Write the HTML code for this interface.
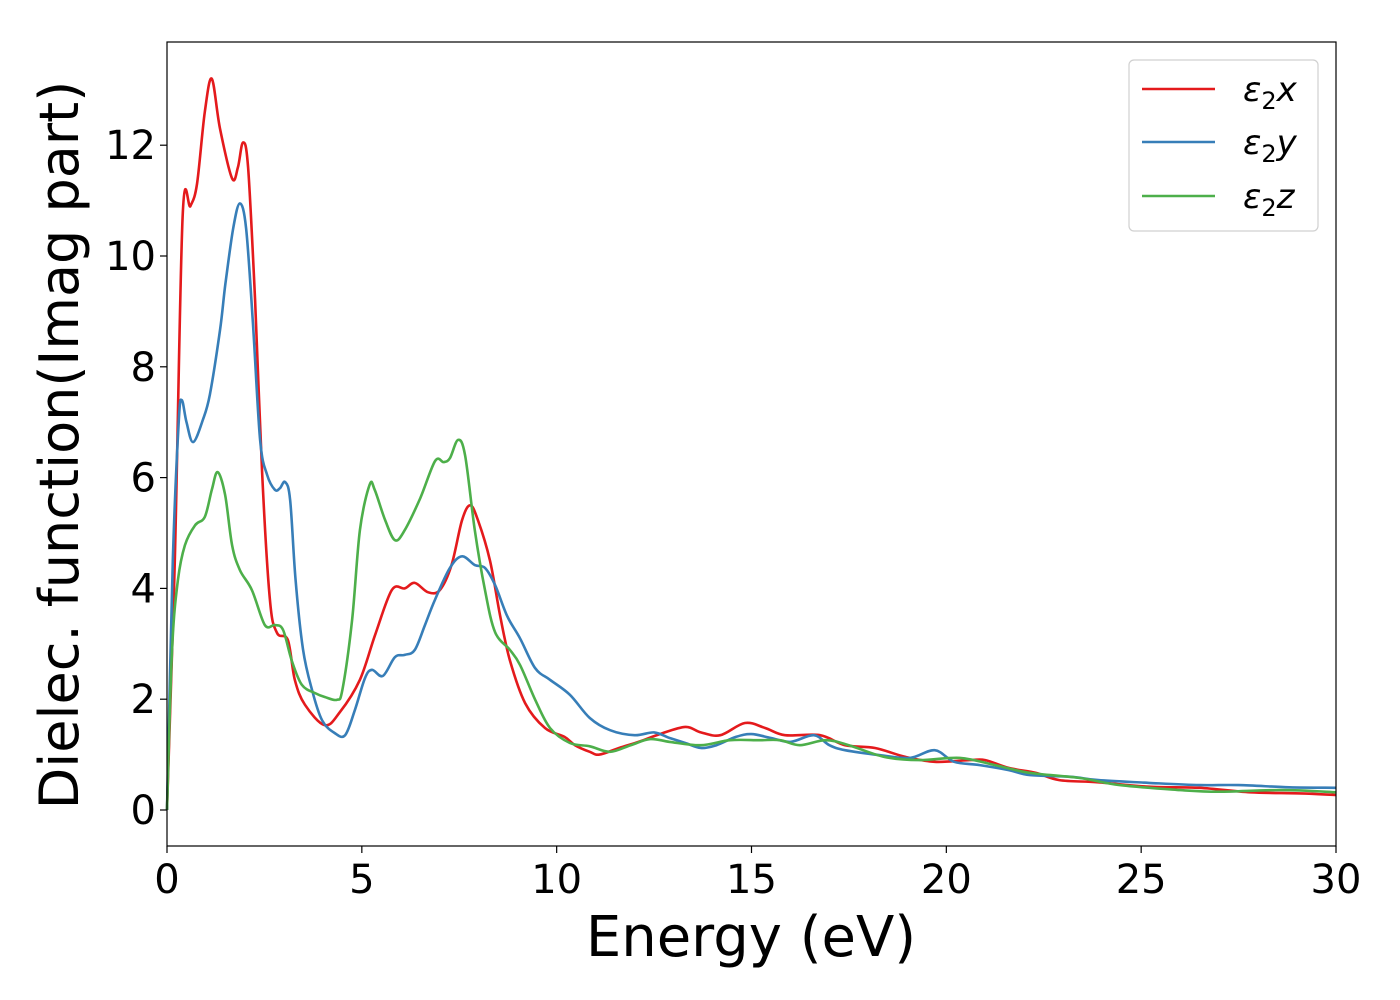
<!DOCTYPE html>
<html><head><meta charset="utf-8"><style>
html,body{margin:0;padding:0;background:#fff;}
svg{display:block;font-family:"DejaVu Sans","Liberation Sans",sans-serif;}
</style></head><body>
<svg id="chart" width="1400" height="1000" viewBox="0 0 1400 1000" xmlns="http://www.w3.org/2000/svg">
<rect x="0" y="0" width="1400" height="1000" fill="#fff"/>
<g id="series"></g>
<rect x="167" y="42" width="1169" height="804" fill="none" stroke="#000" stroke-width="1.2"/>
<g id="xticks"></g><g id="yticks"></g>
<text x="751" y="956" font-size="56" text-anchor="middle">Energy (eV)</text>
<text transform="translate(78,445) rotate(-90)" font-size="54" text-anchor="middle">Dielec. function(Imag part)</text>
<g>
<rect x="1129" y="60" width="189" height="171" rx="5" fill="#fff" stroke="#d0d0d0" stroke-width="1.2"/>
<line x1="1142" y1="89" x2="1215" y2="89" stroke="#e41a1c" stroke-width="2.5"/>
<line x1="1142" y1="142" x2="1215" y2="142" stroke="#377eb8" stroke-width="2.5"/>
<line x1="1142" y1="196" x2="1215" y2="196" stroke="#4daf4a" stroke-width="2.5"/>
<text x="1243" y="101" font-size="34"><tspan font-style="italic">ε</tspan><tspan font-size="24" dy="8">2</tspan><tspan font-style="italic" dy="-8">x</tspan></text>
<text x="1243" y="154" font-size="34"><tspan font-style="italic">ε</tspan><tspan font-size="24" dy="8">2</tspan><tspan font-style="italic" dy="-8">y</tspan></text>
<text x="1243" y="208" font-size="34"><tspan font-style="italic">ε</tspan><tspan font-size="24" dy="8">2</tspan><tspan font-style="italic" dy="-8">z</tspan></text>
</g>
</svg>
<script>
const xTicks=[0,5,10,15,20,25,30];
const yTicks=[0,2,4,6,8,10,12];
const redX=[0,0.2,0.4,0.6,0.77,0.97,1.15,1.36,1.67,1.82,1.95,2.08,2.26,2.44,2.64,2.82,3.1,3.28,3.54,4.05,4.44,4.95,5.34,5.77,6.1,6.36,6.7,7.0,7.3,7.57,7.78,7.98,8.29,8.55,8.8,9.19,9.7,10.2,10.47,10.85,11.1,11.6,12.1,12.65,13.3,13.7,14.2,14.83,15.35,15.86,16.76,17.4,18.17,18.94,19.7,20.6,21,21.6,22.3,22.9,23.9,25.2,26.5,27.8,29.1,30];
const redY=[0,4.5,10.7,10.9,11.3,12.6,13.2,12.3,11.4,11.6,12.05,11.6,9.2,6.1,3.8,3.2,3.07,2.35,1.9,1.53,1.77,2.35,3.16,3.97,4.0,4.1,3.93,3.97,4.42,5.23,5.5,5.23,4.5,3.5,2.7,1.93,1.48,1.32,1.17,1.05,1.0,1.12,1.23,1.37,1.5,1.4,1.35,1.57,1.48,1.35,1.35,1.17,1.12,0.96,0.87,0.9,0.9,0.76,0.67,0.54,0.5,0.42,0.4,0.32,0.3,0.27];
const blueX=[0,0.15,0.3,0.38,0.5,0.67,0.92,1.1,1.36,1.5,1.7,1.87,2.03,2.2,2.39,2.57,2.77,2.9,3.03,3.16,3.3,3.49,3.72,3.98,4.3,4.57,4.82,5.08,5.26,5.54,5.85,6.1,6.36,6.62,6.88,7.26,7.57,7.9,8.16,8.42,8.73,9.06,9.45,9.83,10.34,10.85,11.37,12.0,12.5,12.9,13.3,13.7,14.1,14.6,15.0,15.5,16.0,16.6,17.0,17.4,18.3,19.07,19.7,20.2,20.86,21.6,22.15,23.2,23.9,25.2,26.5,27.5,28.8,30];
const blueY=[0,4.5,7.0,7.4,7.0,6.64,7.04,7.5,8.66,9.5,10.5,10.95,10.5,8.85,6.68,6.05,5.78,5.81,5.92,5.6,4.15,2.9,2.17,1.62,1.39,1.35,1.8,2.38,2.53,2.42,2.76,2.8,2.89,3.34,3.8,4.37,4.58,4.42,4.37,4.06,3.5,3.1,2.56,2.35,2.08,1.66,1.44,1.35,1.4,1.3,1.21,1.12,1.17,1.32,1.37,1.3,1.23,1.35,1.17,1.08,0.99,0.94,1.08,0.87,0.81,0.72,0.63,0.6,0.54,0.49,0.45,0.45,0.41,0.4];
const greenX=[0,0.13,0.28,0.46,0.72,0.97,1.15,1.3,1.49,1.67,1.87,2.18,2.51,2.77,2.98,3.2,3.46,3.8,4.05,4.36,4.5,4.75,4.95,5.2,5.33,5.6,5.85,6.1,6.5,6.88,7.1,7.26,7.47,7.65,7.9,8.16,8.42,8.8,9.06,9.45,9.83,10.34,10.85,11.37,11.9,12.4,12.9,13.7,14.45,15.2,15.73,16.24,16.9,17.5,18.4,19.3,20.35,21.25,22.15,23.4,24.45,26,27,28.6,30];
const greenY=[0,2.9,4.15,4.78,5.14,5.29,5.78,6.1,5.69,4.78,4.33,3.97,3.34,3.34,3.25,2.7,2.26,2.11,2.04,1.99,2.17,3.43,5.05,5.87,5.78,5.23,4.87,5.05,5.63,6.3,6.28,6.35,6.68,6.4,5.05,3.97,3.21,2.89,2.62,1.99,1.48,1.21,1.15,1.05,1.17,1.28,1.23,1.17,1.26,1.26,1.26,1.17,1.26,1.17,0.96,0.9,0.94,0.81,0.67,0.58,0.45,0.36,0.33,0.36,0.32];

const X0=167,X1=1336,Y0=810,YS=55.4;
function sx(v){return X0+(v-0)*(X1-X0)/30;}
function sy(v){return Y0-v*YS;}
const NS='http://www.w3.org/2000/svg';
function smoothPath(xs,ys){
  const p=xs.map((x,i)=>[sx(x),sy(ys[i])]);
  let d='M'+p[0][0].toFixed(1)+','+p[0][1].toFixed(1);
  for(let i=0;i<p.length-1;i++){
    const a=p[Math.max(0,i-1)],b=p[i],c=p[i+1],e=p[Math.min(p.length-1,i+2)];
    const c1=[b[0]+(c[0]-a[0])/6,b[1]+(c[1]-a[1])/6];
    const c2=[c[0]-(e[0]-b[0])/6,c[1]-(e[1]-b[1])/6];
    d+='C'+c1[0].toFixed(1)+','+c1[1].toFixed(1)+' '+c2[0].toFixed(1)+','+c2[1].toFixed(1)+' '+c[0].toFixed(1)+','+c[1].toFixed(1);
  }
  return d;
}
const sg=document.getElementById('series');
function addLine(xs,ys,color,name){
  const pth=document.createElementNS(NS,'path');
  pth.setAttribute('d',smoothPath(xs,ys));
  pth.setAttribute('fill','none');
  pth.setAttribute('stroke',color);
  pth.setAttribute('stroke-width','2.6');
  
  
  sg.appendChild(pth);
}
addLine(redX,redY,'#e41a1c','series-eps2-x');
addLine(blueX,blueY,'#377eb8','series-eps2-y');
addLine(greenX,greenY,'#4daf4a','series-eps2-z');

const xg=document.getElementById('xticks');
xTicks.forEach(v=>{
  const l=document.createElementNS(NS,'line');
  l.setAttribute('x1',sx(v));l.setAttribute('x2',sx(v));
  l.setAttribute('y1',846);l.setAttribute('y2',853);
  l.setAttribute('stroke','#000');l.setAttribute('stroke-width','1.2');
  
  
  xg.appendChild(l);
  const t=document.createElementNS(NS,'text');
  t.setAttribute('x',sx(v));t.setAttribute('y',893);
  t.setAttribute('font-size','40');t.setAttribute('text-anchor','middle');
  t.textContent=v;
  
  
  xg.appendChild(t);
});
const yg=document.getElementById('yticks');
yTicks.forEach(v=>{
  const l=document.createElementNS(NS,'line');
  l.setAttribute('x1',160);l.setAttribute('x2',167);
  l.setAttribute('y1',sy(v));l.setAttribute('y2',sy(v));
  l.setAttribute('stroke','#000');l.setAttribute('stroke-width','1.2');
  
  
  yg.appendChild(l);
  const t=document.createElementNS(NS,'text');
  t.setAttribute('x',156);t.setAttribute('y',sy(v)+14);
  t.setAttribute('font-size','40');t.setAttribute('text-anchor','end');
  t.textContent=v;
  
  
  yg.appendChild(t);
});
</script>
</body></html>
